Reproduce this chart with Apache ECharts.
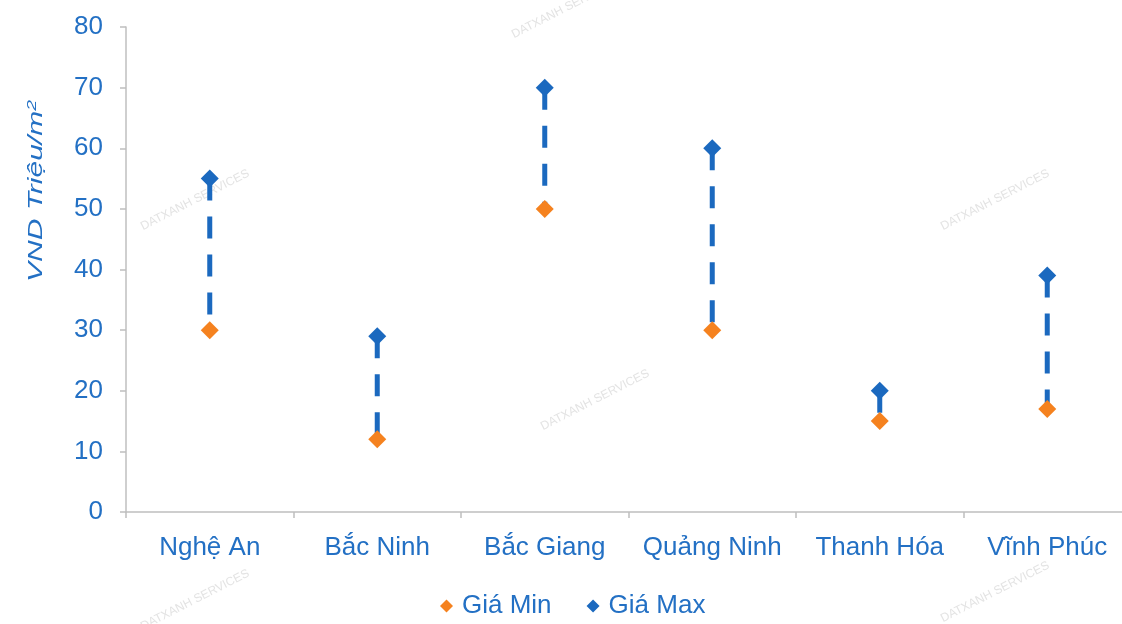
<!DOCTYPE html>
<html>
<head>
<meta charset="utf-8">
<script src="https://cdn.jsdelivr.net/npm/echarts@6/dist/echarts.min.js"></script>
<style>
  html, body { margin: 0; padding: 0; background: #ffffff; overflow: hidden; }
  /* the category axis runs a little past the right edge of the view */
  #chart { width: 1131px; height: 624px; }
</style>
</head>
<body>
<div id="chart"></div>
<script>
// Land price ranges by province (million VND / m2)
const provinces = ['Nghệ An', 'Bắc Ninh', 'Bắc Giang', 'Quảng Ninh', 'Thanh Hóa', 'Vĩnh Phúc'];
const minPrice = [30, 12, 50, 30, 15, 17];
const maxPrice = [55, 29, 70, 60, 20, 39];
const yTicks = { min: 0, max: 80, interval: 10 };

const BLUE = '#1b69bf';
const ORANGE = '#f5821f';
const TEXT_BLUE = '#2370c4';
const AXIS_GRAY = '#bfbfbf';
const FONT = '"Liberation Sans", Arial, sans-serif';

const chart = echarts.init(document.getElementById('chart'), null, { renderer: 'canvas' });

// Faint brand stamps spread across the canvas
const stampSpots = [[195, 200], [566, 8], [595, 400], [995, 200], [195, 600], [995, 592]];
const stamps = stampSpots.map(([x, y]) => ({
  type: 'text',
  x: x, y: y,
  rotation: Math.PI * 27 / 180,
  z: 0,
  style: {
    text: 'DATXANH SERVICES',
    fill: 'rgba(200,200,200,0.5)',
    font: '12px ' + FONT,
    align: 'center',
    verticalAlign: 'middle'
  }
}));

chart.setOption({
  animation: false,
  backgroundColor: '#ffffff',
  grid: { left: 126, top: 27, right: 0, height: 485, containLabel: false },
  xAxis: {
    type: 'category',
    data: provinces,
    boundaryGap: true,
    axisLine: { lineStyle: { color: AXIS_GRAY, width: 1.5 } },
    axisTick: { show: true, interval: 0, length: 6, lineStyle: { color: AXIS_GRAY, width: 1.5 } },
    axisLabel: { interval: 0, color: TEXT_BLUE, fontSize: 26, fontFamily: FONT, margin: 23 },
    splitLine: { show: false }
  },
  yAxis: {
    type: 'value',
    min: yTicks.min, max: yTicks.max, interval: yTicks.interval,
    axisLine: { show: true, lineStyle: { color: AXIS_GRAY, width: 1.5 } },
    axisTick: { show: true, length: 6, lineStyle: { color: AXIS_GRAY, width: 1.5 } },
    axisLabel: { color: TEXT_BLUE, fontSize: 26, fontFamily: FONT, margin: 23 },
    splitLine: { show: false }
  },
  legend: {
    bottom: 0,
    left: 435,
    itemWidth: 13,
    itemHeight: 13,
    itemGap: 35,
    textStyle: { color: TEXT_BLUE, fontSize: 26, fontFamily: FONT, padding: [0, 0, 0, 4] },
    data: [
      { name: 'Giá Min', icon: 'diamond' },
      { name: 'Giá Max', icon: 'diamond' }
    ]
  },
  graphic: stamps.concat([{
    type: 'text',
    left: 26,
    top: 100,
    rotation: Math.PI / 2,
    scaleX: 1.5,
    style: {
      rich: {
        t: { font: 'italic 20px ' + FONT, fill: TEXT_BLUE },
        s: { font: 'italic 13px ' + FONT, fill: TEXT_BLUE, verticalAlign: 'top', padding: [0, 0, 8, 0] }
      },
      text: '{t|VND Triệu/m}{s|2}'
    }
  }]),
  series: [
    {
      name: 'range',
      type: 'custom',
      z: 1,
      silent: true,
      data: provinces.map((p, i) => [i, minPrice[i], maxPrice[i]]),
      encode: { x: 0, y: [1, 2] },
      renderItem: function (params, api) {
        const top = api.coord([api.value(0), api.value(2)]);
        const bottom = api.coord([api.value(0), api.value(1)]);
        return {
          type: 'line',
          shape: { x1: top[0], y1: top[1], x2: bottom[0], y2: bottom[1] },
          style: { stroke: BLUE, lineWidth: 5, lineDash: [22, 16], fill: null }
        };
      }
    },
    {
      name: 'Giá Min',
      type: 'scatter',
      z: 3,
      symbol: 'diamond',
      symbolSize: 18,
      itemStyle: { color: ORANGE, opacity: 1 },
      data: minPrice
    },
    {
      name: 'Giá Max',
      type: 'scatter',
      z: 3,
      symbol: 'diamond',
      symbolSize: 18,
      itemStyle: { color: BLUE, opacity: 1 },
      data: maxPrice
    }
  ]
});
</script>
</body>
</html>
